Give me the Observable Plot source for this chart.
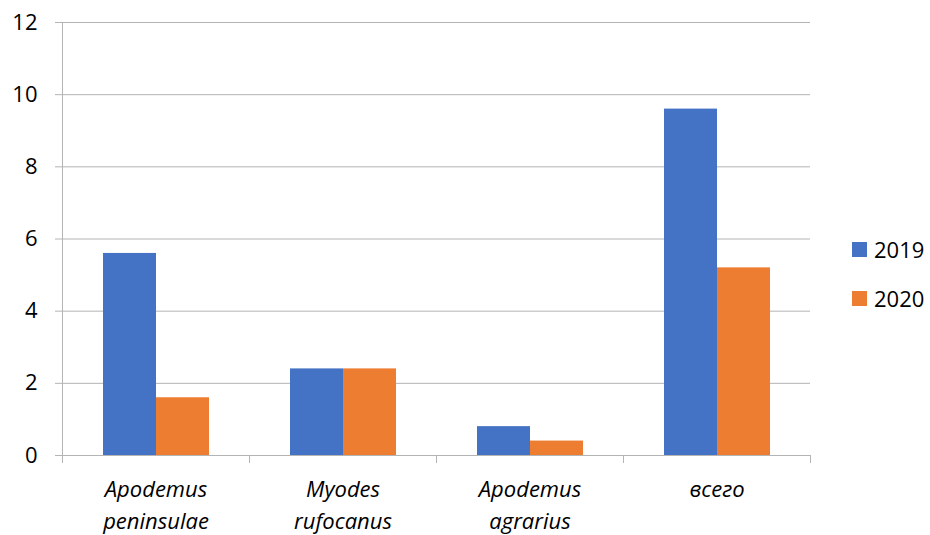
<!DOCTYPE html>
<html>
<head>
<meta charset="utf-8">
<script src="https://cdn.jsdelivr.net/npm/d3@7"></script>
<script src="https://cdn.jsdelivr.net/npm/@observablehq/plot@0.6"></script>
<style>
  html, body { margin: 0; padding: 0; background: #fff; }
  #wrap { position: relative; width: 930px; height: 535px; font-family: "Open Sans", sans-serif; }
  #legend { position: absolute; left: 852px; top: 233px; font-size: 22px; color: #000; }
  .item { display: flex; align-items: center; height: 32px; margin-bottom: 17px; }
  .sw { width: 15px; height: 15px; margin-right: 7px; }
</style>
</head>
<body>
<div id="wrap"><div id="legend"></div></div>
<script>
const categories = ["Apodemus peninsulae", "Myodes rufocanus", "Apodemus agrarius", "всего"];
const years = ["2019", "2020"];
const values2019 = [5.6, 2.4, 0.8, 9.6];
const values2020 = [1.6, 2.4, 0.4, 5.2];
const yTicks = [0, 2, 4, 6, 8, 10, 12];
const colors = ["#4472C4", "#ED7D31"];

const data = categories.flatMap((c, i) => [
  {category: c, year: years[0], value: values2019[i]},
  {category: c, year: years[1], value: values2020[i]}
]);

const W = 930, H = 535, mT = 22, mB = 80, mL = 62, mR = 120;
const innerH = H - mT - mB;
const gridColor = "#b4b4b4";

const chart = Plot.plot({
  width: W, height: H,
  marginTop: mT, marginBottom: mB, marginLeft: mL, marginRight: mR,
  style: {fontFamily: "Open Sans", fontSize: "22px", color: "#000", background: "#fff", overflow: "visible"},
  fx: {domain: categories, padding: 0},
  x: {domain: years, paddingInner: 0, paddingOuter: 0.764, axis: null},
  y: {domain: [0, 12]},
  color: {domain: years, range: colors},
  marks: [
    Plot.gridY(yTicks, {stroke: gridColor, strokeOpacity: 1}),
    Plot.axisY(yTicks, {tickSize: 7, tickPadding: 18, stroke: gridColor, label: null, fontSize: 22}),
    Plot.frame({facet: "super", anchor: "left", insetBottom: -7, stroke: gridColor}),
    Plot.frame({anchor: "left", insetTop: innerH, insetBottom: -7, stroke: gridColor}),
    Plot.frame({anchor: "right", insetTop: innerH, insetBottom: -7, stroke: gridColor}),
    Plot.barY(data, {fx: "category", x: "year", y: "value", fill: "year"}),
    Plot.axisFx({anchor: "bottom", tickSize: 0, tickPadding: 19, label: null,
      fontStyle: "italic", fontSize: 22, lineHeight: 1.45,
      tickFormat: d => d.replace(" ", "\n")})
  ]
});
document.getElementById("wrap").prepend(chart);

const legend = document.getElementById("legend");
years.forEach((y, i) => {
  const item = document.createElement("div");
  item.className = "item";
  item.innerHTML = `<span class="sw" style="background:${colors[i]}"></span><span>${y}</span>`;
  legend.appendChild(item);
});
</script>
</body>
</html>
